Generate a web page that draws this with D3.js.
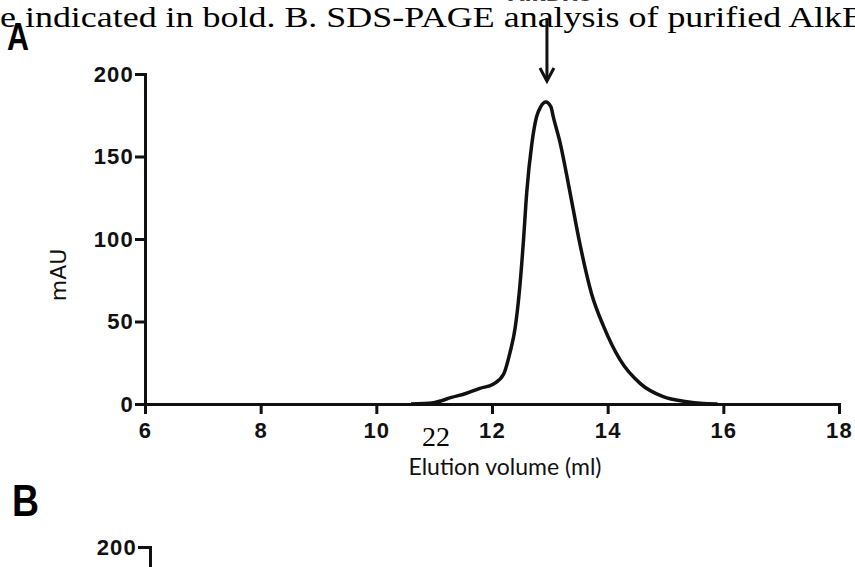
<!DOCTYPE html>
<html>
<head>
<meta charset="utf-8">
<script src="https://cdn.jsdelivr.net/npm/d3@7"></script>
<style>
  body { margin: 0; background: #fff; }
  svg { display: block; }
</style>
</head>
<body>
<svg id="chart" width="855" height="567"></svg>
<script>
// elution profile (ml vs mAU)
const volume = [10.6, 10.99, 11.3, 11.56, 11.79, 12.02, 12.2, 12.31, 12.4, 12.47, 12.54, 12.6, 12.69, 12.77, 12.84, 12.93, 13.02, 13.06, 13.18, 13.35, 13.52, 13.72, 13.93, 14.21, 14.56, 14.96, 15.37, 15.6, 15.9];
const mAU = [0, 0.8, 4, 6.5, 9.5, 12, 18, 31, 46, 67, 97, 128, 158, 174, 180, 183, 180, 174, 158, 128, 97, 67, 47, 27, 12.5, 4.4, 1.4, 0.4, 0];
const xTicks = [6, 8, 10, 12, 14, 16, 18];
const yTicks = [0, 50, 100, 150, 200];
const peakLabel = "AlkBH5";
const peakVolume = 12.95;
const captionText = "e indicated in bold. B. SDS-PAGE analysis of purified AlkB";

const svg = d3.select("#chart");
const ink = "#111";

// page text behind the figure
svg.append("text")
    .attr("x", 0).attr("y", 27)
    .attr("textLength", 866)
    .attr("lengthAdjust", "spacingAndGlyphs")
    .style("font-family", "'Liberation Serif', 'DejaVu Serif', serif")
    .style("font-size", "29px")
    .style("fill", "#000")
    .text(captionText);

const x = d3.scaleLinear().domain([6, 18]).range([145, 839]);
const y = d3.scaleLinear().domain([0, 200]).range([404, 74]);

function styleAxis(g) {
    g.select(".domain").attr("stroke", ink).attr("stroke-width", 3).attr("stroke-linecap", "square");
    g.selectAll(".tick line").attr("stroke", ink).attr("stroke-width", 3);
    g.selectAll(".tick text")
        .style("font-family", "'Liberation Sans', Arial, sans-serif")
        .style("font-weight", "bold")
        .style("font-size", "22px")
        .style("letter-spacing", "1.2px")
        .attr("fill", ink);
}

// panel label A
svg.append("text")
    .attr("transform", "translate(7,50) scale(0.8,1)")
    .style("font-family", "'Liberation Sans', Arial, sans-serif")
    .style("font-weight", "bold")
    .style("font-size", "38px")
    .text("A");

// x axis
svg.append("g")
    .attr("transform", "translate(0," + y(0) + ")")
    .call(d3.axisBottom(x).tickValues(xTicks).tickSize(10).tickSizeOuter(0).tickPadding(8).tickFormat(d3.format("d")))
    .call(styleAxis);

// y axis
svg.append("g")
    .attr("transform", "translate(" + x(6) + ",0)")
    .call(d3.axisLeft(y).tickValues(yTicks).tickSize(10).tickSizeOuter(0).tickPadding(1).tickFormat(d3.format("d")))
    .call(styleAxis);

// axis titles
svg.append("text")
    .attr("transform", "translate(66,275) rotate(-90)")
    .attr("text-anchor", "middle")
    .style("font-family", "'DejaVu Sans', sans-serif")
    .style("font-size", "22px")
    .attr("fill", ink)
    .text("mAU");

svg.append("text")
    .attr("x", 505).attr("y", 475)
    .attr("text-anchor", "middle")
    .style("font-family", "Lato, 'Open Sans', sans-serif")
    .style("font-size", "23px")
    .attr("fill", ink)
    .text("Elution volume (ml)");

// chromatogram trace
const line = d3.line()
    .x((d, i) => x(volume[i]))
    .y(d => y(d))
    .curve(d3.curveMonotoneX);

svg.append("path")
    .datum(mAU)
    .attr("d", line)
    .attr("fill", "none")
    .attr("stroke", ink)
    .attr("stroke-width", 3.5)
    .attr("stroke-linejoin", "round");

// peak arrow and label
const ax = x(peakVolume);
svg.append("line")
    .attr("x1", ax).attr("x2", ax)
    .attr("y1", 18).attr("y2", 81)
    .attr("stroke", ink).attr("stroke-width", 3);
svg.append("path")
    .attr("d", "M" + (ax - 7) + ",68 L" + ax + ",81 L" + (ax + 7) + ",68")
    .attr("fill", "none").attr("stroke", ink).attr("stroke-width", 3);
svg.append("text")
    .attr("x", ax + 4).attr("y", 1)
    .attr("text-anchor", "middle")
    .style("font-family", "'DejaVu Sans', sans-serif")
    .style("font-weight", "bold")
    .style("font-size", "21px")
    .attr("fill", "#444")
    .text(peakLabel);

// page number
svg.append("text")
    .attr("x", 436).attr("y", 446)
    .attr("text-anchor", "middle")
    .style("font-family", "'Liberation Serif', 'DejaVu Serif', serif")
    .style("font-size", "28px")
    .attr("fill", "#000")
    .text("22");

// panel B (only its top is on the page)
svg.append("text")
    .attr("transform", "translate(12,516) scale(0.85,1)")
    .style("font-family", "'Liberation Sans', Arial, sans-serif")
    .style("font-weight", "bold")
    .style("font-size", "44px")
    .text("B");

const yB = d3.scaleLinear().domain([0, 200]).range([880, 547]);
svg.append("g")
    .attr("transform", "translate(150,0)")
    .call(d3.axisLeft(yB).tickValues([200]).tickSize(12).tickSizeOuter(0).tickPadding(1).tickFormat(d3.format("d")))
    .call(styleAxis);
</script>
</body>
</html>
